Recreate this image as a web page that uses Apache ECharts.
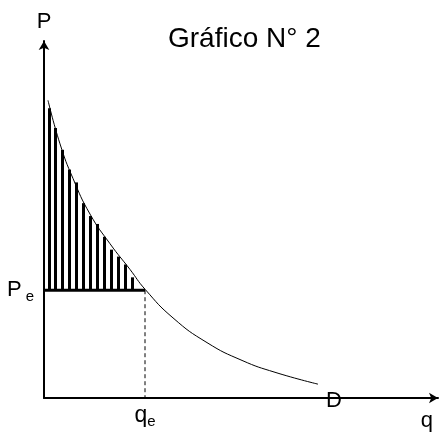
<!DOCTYPE html>
<html>
<head>
<meta charset="utf-8">
<script src="https://cdn.jsdelivr.net/npm/echarts@6/dist/echarts.min.js"></script>
<style>
  html, body { margin: 0; padding: 0; background: #fff; }
  #chart { width: 443px; height: 432px; }
</style>
</head>
<body>
<div id="chart"></div>
<script>
// ---- data (units) ----
var demandQ = [4, 16, 29, 46, 66, 86, 101, 129, 163, 198, 231, 274];
var demandP = [301, 257, 222, 186, 156, 130, 110, 81, 56, 38, 26, 14];

var hatchQ = [5, 11, 18, 25, 32, 39, 46, 53, 60, 67, 74, 81, 88];
var hatchTop = [293, 273, 251, 231, 218, 197, 184, 176, 163, 150, 143, 135, 122];

var Pe = 109;
var qe = 101;

var FONT = 'Liberation Sans';

var chart = echarts.init(document.getElementById('chart'));

// build pairs for the library
var demandData = demandQ.map(function (q, i) { return [q, demandP[i]]; });
var hatchData = hatchQ.map(function (q, i) { return [q, hatchTop[i]]; });

var option = {
    backgroundColor: '#fff',
    animation: false,
    title: {
        text: 'Gráfico N° 2',
        left: 163,
        top: 20,
        textStyle: {
            fontFamily: FONT,
            fontSize: 28,
            fontWeight: 'normal',
            color: '#000'
        }
    },
    grid: {
        left: 44,
        right: 5,
        top: 41,
        bottom: 29
    },
    xAxis: {
        type: 'value',
        min: 0,
        max: 394,
        name: 'q',
        nameLocation: 'end',
        nameGap: -5,
        nameTextStyle: {
            fontFamily: FONT,
            fontSize: 22,
            color: '#000',
            align: 'right',
            verticalAlign: 'top',
            padding: [12, 0, 0, 0]
        },
        axisLine: {
            lineStyle: { color: '#000', width: 2 },
            symbol: ['none', 'arrow'],
            symbolSize: [8, 9]
        },
        axisTick: { show: false },
        splitLine: { show: false },
        axisLabel: {
            customValues: [qe],
            margin: 4,
            formatter: function () { return '{a|q}{b|e}'; },
            rich: {
                a: { fontFamily: FONT, fontSize: 23, color: '#000' },
                b: { fontFamily: FONT, fontSize: 15, color: '#000', padding: [12, 0, 0, 0] }
            }
        }
    },
    yAxis: {
        type: 'value',
        min: 0,
        max: 361,
        name: 'P',
        nameLocation: 'end',
        nameGap: 8,
        nameTextStyle: {
            fontFamily: FONT,
            fontSize: 22,
            color: '#000',
            align: 'center'
        },
        axisLine: {
            lineStyle: { color: '#000', width: 2 },
            symbol: ['none', 'arrow'],
            symbolSize: [8, 9]
        },
        axisTick: { show: false },
        splitLine: { show: false },
        axisLabel: {
            customValues: [Pe],
            margin: 10,
            formatter: function () { return '{a|P}{b|e}'; },
            rich: {
                a: { fontFamily: FONT, fontSize: 22, color: '#000' },
                b: { fontFamily: FONT, fontSize: 15, color: '#000', padding: [14, 0, 0, 4] }
            }
        }
    },
    series: [
        // hatched surplus area: thick vertical strokes from Pe up to the curve
        {
            type: 'custom',
            data: hatchData,
            silent: true,
            z: 3,
            renderItem: function (params, api) {
                var top = api.coord([api.value(0), api.value(1)]);
                var base = api.coord([api.value(0), Pe]);
                var x = Math.round(top[0]) + 0.5;
                return {
                    type: 'line',
                    shape: { x1: x, y1: top[1], x2: x, y2: base[1] },
                    style: { stroke: '#000', lineWidth: 3 }
                };
            }
        },
        // Pe horizontal
        {
            type: 'line',
            data: [[0, Pe], [qe, Pe]],
            symbol: 'none',
            z: 4,
            lineStyle: { color: '#000', width: 3 }
        },
        // qe dashed drop line
        {
            type: 'line',
            data: [[qe, Pe], [qe, 0]],
            symbol: 'none',
            lineStyle: { color: '#000', width: 1, type: [4, 3] }
        },
        // demand curve
        {
            type: 'line',
            data: demandData,
            symbol: 'none',
            smooth: 0.5,
            z: 5,
            lineStyle: { color: '#000', width: 1 },
            endLabel: {
                show: true,
                formatter: 'D',
                distance: 8,
                offset: [0, 17],
                fontFamily: FONT,
                fontSize: 22,
                color: '#000'
            }
        }
    ]
};

chart.setOption(option);
</script>
</body>
</html>
